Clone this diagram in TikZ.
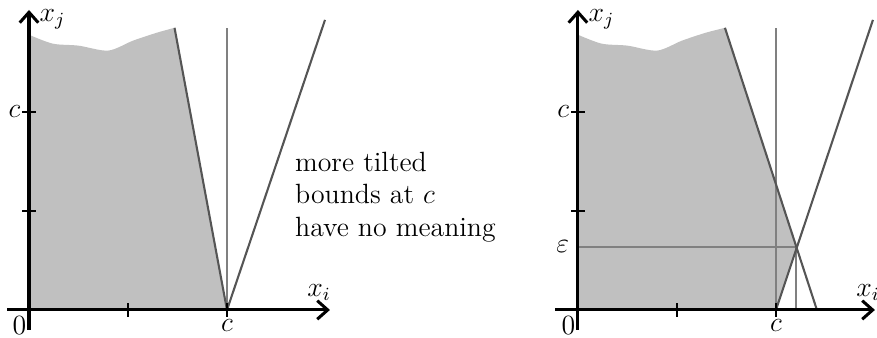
\documentclass[tikz,border=0pt]{standalone}
\usepackage{amsmath,amssymb}
\usepackage{xcolor}
\usetikzlibrary{arrows.meta}
\definecolor{regfill}{RGB}{192,192,192}
\definecolor{bndgrey}{RGB}{85,85,85}
\definecolor{lvlgrey}{RGB}{128,128,128}
\tikzset{
  axis/.style={line width=1.3pt, -{Straight Barb[length=4.5pt,width=8pt,line width=1.3pt]}},
  tick/.style={line width=1.1pt},
  bound/.style={line width=0.9pt, color=bndgrey},
  level/.style={line width=0.9pt, color=lvlgrey},
  region/.style={fill=regfill, draw=none},
  lbl/.style={inner sep=1pt, font=\large},
}
\begin{document}
\begin{tikzpicture}[x=1.5cm,y=1.5cm]
\useasboundingbox (-0.293,-0.283) rectangle (8.566,3.131);
% left panel
\coordinate (O) at (0,0);
\coordinate (top) at (1.47,2.85);
\coordinate (cx) at (2,0);
\fill[region] (O) -- plot[smooth] coordinates {(0,2.78) (0.24,2.69) (0.5,2.67) (0.8,2.62) (1.05,2.72) (1.29,2.8) (1.47,2.85)} -- (cx) -- cycle;
\draw[level] (cx) -- (2,2.85);
\draw[bound] (top) -- (cx);
\draw[bound] (cx) -- (2.99,2.93);
\draw[axis] (-0.22,0) -- (3.04,0);
\draw[axis] (0,-0.2) -- (0,3.03);
\foreach \t in {1,2} {
  \draw[tick] (\t,-0.07) -- (\t,0.07);
  \draw[tick] (-0.07,\t) -- (0.07,\t);
}
\node[lbl, anchor=west] (xj) at (0.08,2.94) {$x_j$};
\node[lbl, anchor=south] (xi) at (2.93,0.07) {$x_i$};
\node[lbl, anchor=north east] (zero) at (0.0,-0.04) {$0$};
\node[lbl, anchor=north] (cxl) at (2,-0.07) {$c$};
\node[lbl, anchor=east] (cyl) at (-0.06,2) {$c$};
\node[lbl, anchor=west, align=left] (note) at (2.66,1.14) {more tilted\\bounds at $c$\\have no meaning};
% right panel
\begin{scope}[xshift=5.545*1.5cm]
\coordinate (O2) at (0,0);
\coordinate (top2) at (1.485,2.85);
\coordinate (cx2) at (2,0);
\coordinate (eps) at (2.207,0.636);
\coordinate (foot) at (2.414,0);
\fill[region] (O2) -- plot[smooth] coordinates {(0,2.78) (0.24,2.69) (0.5,2.67) (0.8,2.62) (1.05,2.72) (1.29,2.8) (1.485,2.85)} -- (eps) -- (cx2) -- cycle;
\draw[level] (cx2) -- (2,2.85);
\draw[level] (0,0.636) -- (eps);
\draw[level] (eps) -- (2.207,0);
\draw[bound] (top2) -- (foot);
\draw[bound] (cx2) -- (2.98,2.93);
\draw[axis] (-0.23,0) -- (3.0,0);
\draw[axis] (0,-0.2) -- (0,3.03);
\foreach \t in {1,2} {
  \draw[tick] (\t,-0.07) -- (\t,0.07);
  \draw[tick] (-0.07,\t) -- (0.07,\t);
}
\node[lbl, anchor=west] (xj2) at (0.08,2.94) {$x_j$};
\node[lbl, anchor=south] (xi2) at (2.93,0.07) {$x_i$};
\node[lbl, anchor=north east] (zero2) at (0.0,-0.04) {$0$};
\node[lbl, anchor=north] (cxl2) at (2,-0.07) {$c$};
\node[lbl, anchor=east] (cyl2) at (-0.06,2) {$c$};
\node[lbl, anchor=east] (epsl) at (-0.06,0.636) {$\varepsilon$};
\end{scope}
\end{tikzpicture}
\end{document}
